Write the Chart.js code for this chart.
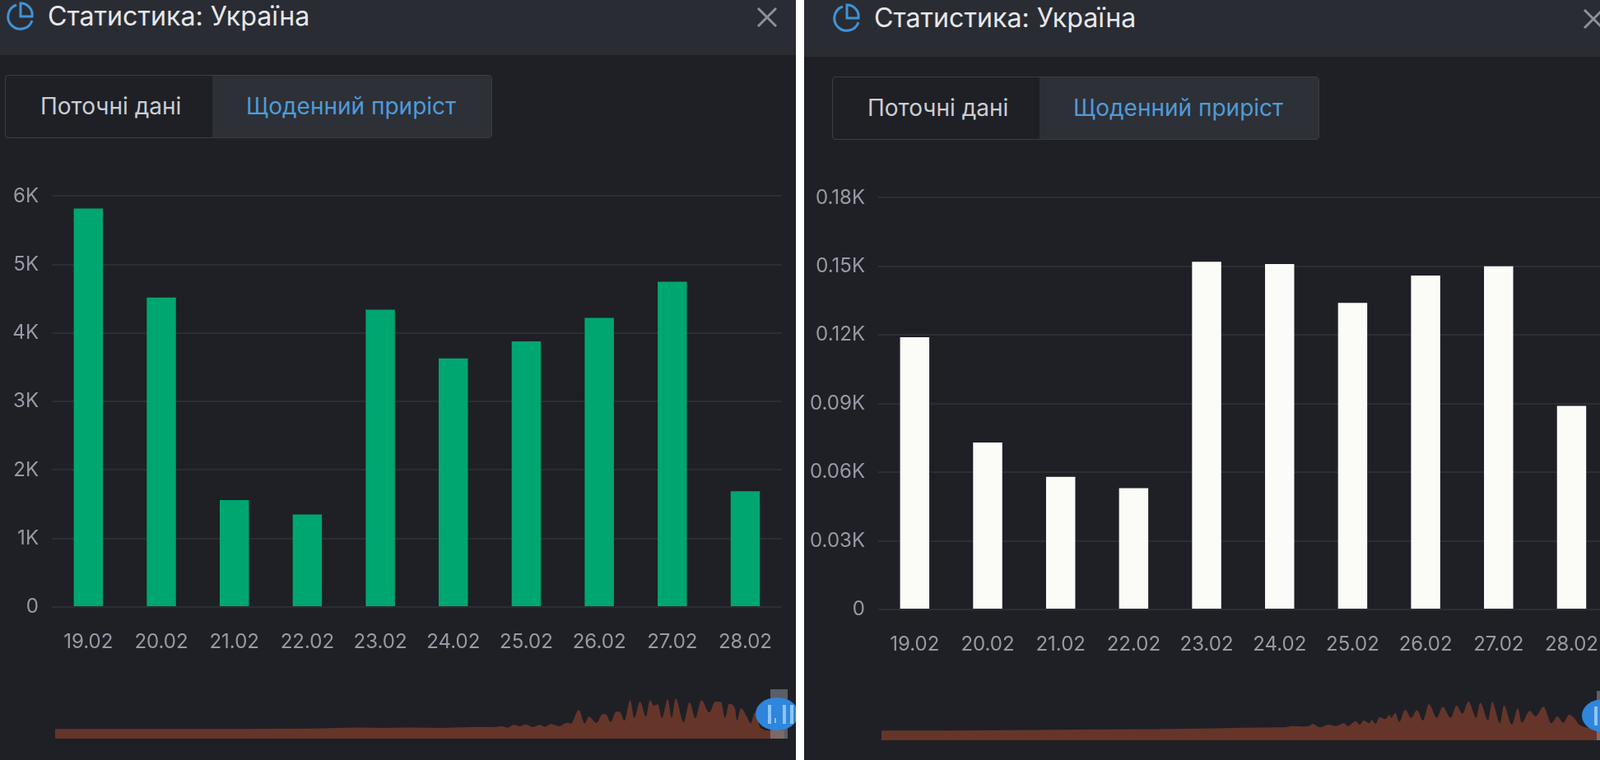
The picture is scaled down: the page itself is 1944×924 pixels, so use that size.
<!DOCTYPE html>
<html lang="uk">
<head>
<meta charset="utf-8">
<title>Статистика: Україна</title>
<script src="https://cdn.jsdelivr.net/npm/chart.js@4"></script>
<style>
    html, body { margin: 0; width: 1944px; height: 924px; overflow: hidden; background: #fff; font-family: Inter, sans-serif; }
    .panel { position: absolute; top: 0; width: 967px; height: 924px; background: #1e2026; overflow: hidden; }
    .panel-left { left: 0; }
    .panel-right { left: 977px; }
    .head { position: absolute; left: 0; right: 0; top: 0; height: 67px; background: #2a2c33; }
    .panel-right .head { height: 69px; }
    .inner { position: absolute; left: 0; top: 0; width: 1000px; height: 924px; }
    .panel-right .inner { left: 27px; top: 2px; }
    .icon { position: absolute; left: 6px; top: 1px; }
    .title { position: absolute; left: 58px; top: 1px; line-height: 38px; font-size: 32.2px; color: #e6e7ea; white-space: nowrap; }
    .close { position: absolute; left: 919px; top: 8px; }
    .tabs { position: absolute; left: 6px; top: 91px; width: 592px; height: 77px; border: 1.5px solid #3a3d45; border-radius: 4px; box-sizing: border-box; }
    .panel-right .tabs { left: 7px; }
    .tab-on { position: absolute; left: 251px; top: 0; right: 0; bottom: 0; background: #2d3037; }
    .tab { position: absolute; top: 0; line-height: 74px; font-size: 28px; white-space: nowrap; }
    .tab-a { left: 42px; color: #cbcdd2; }
    .tab-b { left: 292px; color: #4f9bd9; }
    canvas { position: absolute; }
    .bars { left: -38px; top: 208px; }
    .spark { left: 67px; top: 838px; }
    .grip { position: absolute; left: 936px; top: 838px; width: 21px; height: 60px; background: rgba(150,155,165,0.5); }
    .knob { position: absolute; left: 918px; top: 848px; width: 52px; height: 40px; border-radius: 50%; background: #2f86dc; }
    .knob i { position: absolute; top: 9px; width: 4px; height: 23px; background: #8ec4f5; }
    .knob i.dot { top: 25px; width: 2px; height: 6px; }
</style>
</head>
<body>
<div class="panel panel-left">
    <div class="head"></div>
    <div class="inner">
        <svg class="icon" width="38" height="38" viewBox="0 0 38 38" fill="none" stroke="#3f93d8" stroke-width="3">
            <path d="M14 5 A15 15 0 1 0 33 24"/><path d="M19 3 A14 14 0 0 1 33 19 H19 Z"/>
        </svg>
        <div class="title">Статистика: Україна</div>
        <svg class="close" width="26" height="26" stroke="#8d9099" stroke-width="3"><path d="M2 2 L24 24 M24 2 L2 24"/></svg>
        <div class="tabs"><div class="tab-on"></div><span class="tab tab-a">Поточні дані</span><span class="tab tab-b">Щоденний приріст</span></div>
        <canvas class="bars" id="barsLeft" width="996" height="602"></canvas>
        <canvas class="spark" id="sparkLeft" width="886" height="60"></canvas>
        <div class="grip"></div>
        <div class="knob"><i style="left:15px"></i><i class="dot" style="left:23px"></i><i style="left:33px"></i><i style="left:42px"></i></div>
    </div>
</div>
<div class="panel panel-right">
    <div class="head"></div>
    <div class="inner">
        <svg class="icon" width="38" height="38" viewBox="0 0 38 38" fill="none" stroke="#3f93d8" stroke-width="3">
            <path d="M14 5 A15 15 0 1 0 33 24"/><path d="M19 3 A14 14 0 0 1 33 19 H19 Z"/>
        </svg>
        <div class="title">Статистика: Україна</div>
        <svg class="close" width="26" height="26" stroke="#8d9099" stroke-width="3"><path d="M2 2 L24 24 M24 2 L2 24"/></svg>
        <div class="tabs"><div class="tab-on"></div><span class="tab tab-a">Поточні дані</span><span class="tab tab-b">Щоденний приріст</span></div>
        <canvas class="bars" id="barsRight" width="996" height="602"></canvas>
        <canvas class="spark" id="sparkRight" width="886" height="60"></canvas>
        <div class="grip"></div>
        <div class="knob"><i style="left:15px"></i><i class="dot" style="left:23px"></i><i style="left:33px"></i><i style="left:42px"></i></div>
    </div>
</div>
<script>
const dates = ['19.02', '20.02', '21.02', '22.02', '23.02', '24.02', '25.02', '26.02', '27.02', '28.02'];

// daily figures, thousands
const casesValues = [5.82, 4.52, 1.56, 1.35, 4.34, 3.63, 3.88, 4.22, 4.75, 1.69];
const deathsValues = [0.119, 0.073, 0.058, 0.053, 0.152, 0.151, 0.134, 0.146, 0.150, 0.089];

const casesTicks = ['0', '1K', '2K', '3K', '4K', '5K', '6K'];
const deathsTicks = ['0', '0.03K', '0.06K', '0.09K', '0.12K', '0.15K', '0.18K'];

// overview strip at the bottom, day number / height
const casesDays = [0, 40, 80, 110, 130, 154, 165, 180, 195, 210, 222, 226, 229, 232, 235, 238, 242, 245, 248, 251, 255, 259, 261, 265, 268, 270, 274, 277, 279, 281, 284, 286, 288, 291, 293, 296, 299, 301, 303, 305, 307, 310, 312, 314, 318, 321, 324, 327, 331, 334, 337, 339, 341, 344, 345, 347, 350, 352, 354, 357, 362, 369];
const casesOverview = [11.7, 11.7, 11.7, 12, 12.3, 13.5, 13, 13.5, 13, 14, 14, 15, 13.3, 16.7, 15, 17.3, 14, 16.7, 14.3, 17.7, 15, 19.3, 18.3, 35, 18.3, 26.7, 19, 30, 29, 20, 33, 32, 21.7, 46.7, 25, 45, 26.7, 46.7, 40, 41.7, 25, 47.7, 25, 49, 20, 44.3, 25, 46.7, 31.7, 45, 44.3, 25, 42.3, 36.7, 21.7, 36.7, 26.7, 18.3, 31.7, 13, 10, 10];
const deathsDays = [0, 50, 100, 140, 170, 200, 204, 208, 213, 217, 218, 222, 226, 230, 234, 236, 240, 242, 244, 247, 248, 250, 252, 255, 257, 258, 260, 262, 265, 268, 271, 274, 277, 281, 284, 288, 291, 294, 297, 301, 303, 307, 309, 313, 315, 319, 322, 324, 328, 331, 335, 339, 342, 345, 348, 351, 353, 362, 369];
const deathsOverview = [11.7, 12, 13, 13.5, 14.5, 15.7, 15.7, 17.3, 16.7, 18, 20, 15.7, 19, 17.3, 20.7, 17.3, 23.3, 19, 24, 20.7, 24.7, 20, 28, 25.7, 30.7, 27.3, 33.3, 22.3, 37.3, 27.3, 36.7, 24, 44, 27.3, 40.7, 27.3, 42.3, 32.3, 47.3, 27.3, 45.7, 24, 46.7, 20.7, 42.3, 19, 39, 21.3, 35.7, 29, 40.7, 20.7, 29, 21.3, 31.3, 25.7, 19, 14, 10];

const drawBars = (id, values, tickLabels, color, maxValue, stepValue, xHeight) => {
    new Chart(document.getElementById(id), {
        type: 'bar',
        data: {
            labels: dates,
            datasets: [{ data: values, backgroundColor: color, barPercentage: 0.4, categoryPercentage: 1 }]
        },
        options: {
            responsive: false,
            animation: false,
            plugins: { legend: { display: false }, tooltip: { enabled: false } },
            scales: {
                x: {
                    afterFit: (scale) => { scale.height = xHeight; },
                    grid: { display: false },
                    border: { display: false },
                    ticks: { color: '#979aa5', font: { family: 'Inter', size: 24 }, padding: 20, maxRotation: 0, autoSkip: false }
                },
                y: {
                    min: 0,
                    max: maxValue,
                    afterFit: (scale) => { scale.width = 101; },
                    grid: { color: '#2b2e35', lineWidth: 2, drawTicks: false },
                    border: { display: false },
                    ticks: {
                        stepSize: stepValue,
                        color: '#979aa5',
                        font: { family: 'Inter', size: 24 },
                        padding: 16,
                        callback: (value, index) => tickLabels[index]
                    }
                }
            }
        }
    });
};

const drawStrip = (id, days, heights) => {
    new Chart(document.getElementById(id), {
        type: 'line',
        data: {
            datasets: [{
                data: days.map((day, i) => ({ x: day, y: heights[i] })),
                borderWidth: 0,
                pointRadius: 0,
                fill: 'origin',
                backgroundColor: '#66352a',
                cubicInterpolationMode: 'monotone'
            }]
        },
        options: {
            responsive: false,
            animation: false,
            plugins: { legend: { display: false }, tooltip: { enabled: false } },
            scales: {
                x: { type: 'linear', display: false, min: 0, max: 369 },
                y: { display: false, min: 0, max: 60 }
            }
        }
    });
};

document.fonts.ready.then(() => {
    drawBars('barsLeft', casesValues, casesTicks, '#00a66f', 6, 1, 72);
    drawBars('barsRight', deathsValues, deathsTicks, '#fbfbf8', 0.18, 0.03, 71);
    drawStrip('sparkLeft', casesDays, casesOverview);
    drawStrip('sparkRight', deathsDays, deathsOverview);
});
</script>
</body>
</html>
